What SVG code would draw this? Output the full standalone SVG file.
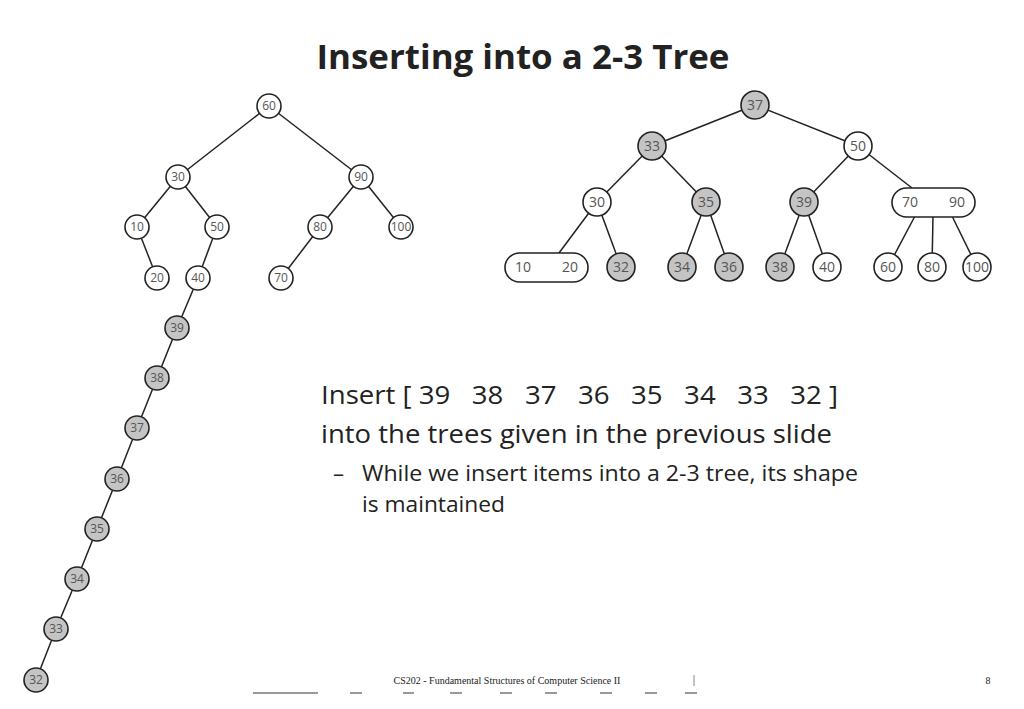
<svg xmlns="http://www.w3.org/2000/svg" width="1024" height="709" viewBox="0 0 1024 709">
<style>
.n{fill:#fff;stroke:#222;stroke-width:1.6}
.g{fill:#c4c4c4;stroke:#222;stroke-width:1.6}
.t{font-family:"Open Sans","Liberation Sans",sans-serif;font-size:12px;fill:#555;text-anchor:middle}
.t2{font-family:"Open Sans","Liberation Sans",sans-serif;font-size:14px;fill:#555;text-anchor:middle}
.e line{stroke:#222;stroke-width:1.5}
.b{font-family:"Open Sans","Liberation Sans",sans-serif;fill:#222}
</style>
<rect width="1024" height="709" fill="#fff"/>
<text x="523" y="69" text-anchor="middle" class="b" font-weight="bold" font-size="34" textLength="413" lengthAdjust="spacingAndGlyphs">Inserting into a 2-3 Tree</text>
<g class="e" id="connectors">
<line x1="269" y1="106" x2="178" y2="177"/><line x1="269" y1="106" x2="361" y2="177"/>
<line x1="178" y1="177" x2="137" y2="227"/><line x1="178" y1="177" x2="217" y2="227"/>
<line x1="361" y1="177" x2="320" y2="227"/><line x1="361" y1="177" x2="401" y2="227"/>
<line x1="137" y1="227" x2="157" y2="278"/><line x1="217" y1="227" x2="198" y2="278"/>
<line x1="320" y1="227" x2="281" y2="278"/>
<line x1="198" y1="278" x2="177" y2="328"/><line x1="177" y1="328" x2="157" y2="378"/>
<line x1="157" y1="378" x2="137" y2="428"/><line x1="137" y1="428" x2="117" y2="479"/>
<line x1="117" y1="479" x2="97" y2="529"/><line x1="97" y1="529" x2="77" y2="579"/>
<line x1="77" y1="579" x2="56" y2="629"/><line x1="56" y1="629" x2="36" y2="680"/>
<line x1="755" y1="105" x2="652" y2="146"/><line x1="755" y1="105" x2="858" y2="146"/>
<line x1="652" y1="146" x2="597" y2="202"/><line x1="652" y1="146" x2="706" y2="202"/>
<line x1="858" y1="146" x2="804" y2="202"/><line x1="858" y1="146" x2="912" y2="188"/>
<line x1="597" y1="202" x2="559" y2="253"/><line x1="597" y1="202" x2="621" y2="267"/>
<line x1="706" y1="202" x2="682" y2="267"/><line x1="706" y1="202" x2="729" y2="267"/>
<line x1="804" y1="202" x2="780" y2="267"/><line x1="804" y1="202" x2="827" y2="267"/>
<line x1="915" y1="216" x2="888" y2="267"/><line x1="933" y1="216" x2="932" y2="267"/>
<line x1="952" y1="216" x2="977" y2="267"/>
</g>
<g id="L60"><circle class="n" cx="269" cy="106" r="12"/><text class="t" x="269" y="110">60</text></g>
<g id="L30"><circle class="n" cx="178" cy="177" r="12"/><text class="t" x="178" y="181">30</text></g>
<g id="L90"><circle class="n" cx="361" cy="177" r="12"/><text class="t" x="361" y="181">90</text></g>
<g id="L10"><circle class="n" cx="137" cy="227" r="12"/><text class="t" x="137" y="231">10</text></g>
<g id="L50"><circle class="n" cx="217" cy="227" r="12"/><text class="t" x="217" y="231">50</text></g>
<g id="L80"><circle class="n" cx="320" cy="227" r="12"/><text class="t" x="320" y="231">80</text></g>
<g id="L100"><circle class="n" cx="401" cy="227" r="12"/><text class="t" x="401" y="231">100</text></g>
<g id="L20"><circle class="n" cx="157" cy="278" r="12"/><text class="t" x="157" y="282">20</text></g>
<g id="L40"><circle class="n" cx="198" cy="278" r="12"/><text class="t" x="198" y="282">40</text></g>
<g id="L70"><circle class="n" cx="281" cy="278" r="12"/><text class="t" x="281" y="282">70</text></g>
<g id="L39"><circle class="g" cx="177" cy="328" r="12"/><text class="t" x="177" y="332">39</text></g>
<g id="L38"><circle class="g" cx="157" cy="378" r="12"/><text class="t" x="157" y="382">38</text></g>
<g id="L37"><circle class="g" cx="137" cy="428" r="12"/><text class="t" x="137" y="432">37</text></g>
<g id="L36"><circle class="g" cx="117" cy="479" r="12"/><text class="t" x="117" y="483">36</text></g>
<g id="L35"><circle class="g" cx="97" cy="529" r="12"/><text class="t" x="97" y="533">35</text></g>
<g id="L34"><circle class="g" cx="77" cy="579" r="12"/><text class="t" x="77" y="583">34</text></g>
<g id="L33"><circle class="g" cx="56" cy="629" r="12"/><text class="t" x="56" y="633">33</text></g>
<g id="L32"><circle class="g" cx="36" cy="680" r="12"/><text class="t" x="36" y="684">32</text></g>
<g id="R37"><circle class="g" cx="755" cy="105" r="14"/><text class="t2" x="755" y="110">37</text></g>
<g id="R33"><circle class="g" cx="652" cy="146" r="14"/><text class="t2" x="652" y="151">33</text></g>
<g id="R50"><circle class="n" cx="858" cy="146" r="14"/><text class="t2" x="858" y="151">50</text></g>
<g id="R30"><circle class="n" cx="597" cy="202" r="14"/><text class="t2" x="597" y="207">30</text></g>
<g id="R35"><circle class="g" cx="706" cy="202" r="14"/><text class="t2" x="706" y="207">35</text></g>
<g id="R39"><circle class="g" cx="804" cy="202" r="14"/><text class="t2" x="804" y="207">39</text></g>
<g id="R7090"><rect class="n" x="892" y="188" width="83" height="29" rx="14.5"/><text class="t2" x="910" y="207">70</text><text class="t2" x="957" y="207">90</text></g>
<g id="R1020"><rect class="n" x="505" y="253" width="83" height="29" rx="14.5"/><text class="t2" x="523" y="272">10</text><text class="t2" x="570" y="272">20</text></g>
<g id="R32"><circle class="g" cx="621" cy="267" r="14"/><text class="t2" x="621" y="272">32</text></g>
<g id="R34"><circle class="g" cx="682" cy="267" r="14"/><text class="t2" x="682" y="272">34</text></g>
<g id="R36"><circle class="g" cx="729" cy="267" r="14"/><text class="t2" x="729" y="272">36</text></g>
<g id="R38"><circle class="g" cx="780" cy="267" r="14"/><text class="t2" x="780" y="272">38</text></g>
<g id="R40"><circle class="n" cx="827" cy="267" r="14"/><text class="t2" x="827" y="272">40</text></g>
<g id="R60"><circle class="n" cx="888" cy="267" r="14"/><text class="t2" x="888" y="272">60</text></g>
<g id="R80"><circle class="n" cx="932" cy="267" r="14"/><text class="t2" x="932" y="272">80</text></g>
<g id="R100"><circle class="n" cx="977" cy="267" r="14"/><text class="t2" x="977" y="272">100</text></g>
<text class="b" x="321" y="404" font-size="26" textLength="517" lengthAdjust="spacingAndGlyphs" xml:space="preserve">Insert [ 39   38   37   36   35   34   33   32 ]</text>
<text class="b" x="321" y="443" font-size="26" textLength="511" lengthAdjust="spacingAndGlyphs">into the trees given in the previous slide</text>
<text class="b" x="333" y="481" font-size="22">–</text>
<text class="b" x="362" y="481" font-size="22" textLength="496" lengthAdjust="spacingAndGlyphs">While we insert items into a 2-3 tree, its shape</text>
<text class="b" x="362" y="512" font-size="22" textLength="143" lengthAdjust="spacingAndGlyphs">is maintained</text>
<text x="507" y="684" text-anchor="middle" font-family="Liberation Serif,serif" font-size="10" fill="#222">CS202 - Fundamental Structures of Computer Science II</text>
<line x1="694" y1="675" x2="694" y2="686" stroke="#888" stroke-width="1"/>
<text x="988" y="684" text-anchor="middle" font-family="Liberation Serif,serif" font-size="10" fill="#222">8</text>
<g stroke="#777" stroke-width="1.5"><line x1="253" y1="693" x2="318" y2="693"/><line x1="350" y1="693" x2="362" y2="693"/><line x1="403" y1="693" x2="414" y2="693"/><line x1="450" y1="693" x2="462" y2="693"/><line x1="500" y1="693" x2="512" y2="693"/><line x1="545" y1="693" x2="557" y2="693"/><line x1="600" y1="693" x2="612" y2="693"/><line x1="645" y1="693" x2="657" y2="693"/><line x1="685" y1="693" x2="697" y2="693"/></g>
</svg>
